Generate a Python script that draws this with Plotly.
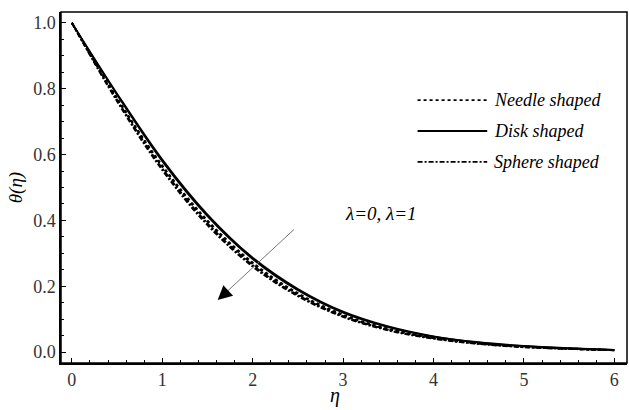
import plotly.graph_objects as go

# Similarity variable and temperature profiles theta(eta)
eta = [0.0, 0.5, 1.0, 1.5, 2.0, 2.5, 3.0, 3.5, 4.0, 4.5, 5.0, 5.5, 6.0]

disk_l0 = [1.0, 0.785, 0.585, 0.418, 0.287, 0.192, 0.123, 0.078, 0.048, 0.030, 0.019, 0.012, 0.007]
disk_l1 = [1.0, 0.782, 0.580, 0.413, 0.283, 0.188, 0.120, 0.076, 0.047, 0.029, 0.018, 0.011, 0.007]
needle_l0 = [1.0, 0.772, 0.567, 0.400, 0.272, 0.179, 0.114, 0.071, 0.044, 0.027, 0.017, 0.011, 0.006]
needle_l1 = [1.0, 0.769, 0.563, 0.396, 0.268, 0.176, 0.111, 0.069, 0.043, 0.026, 0.016, 0.010, 0.006]
sphere_l0 = [1.0, 0.766, 0.558, 0.391, 0.264, 0.173, 0.109, 0.068, 0.042, 0.026, 0.016, 0.010, 0.006]
sphere_l1 = [1.0, 0.762, 0.553, 0.386, 0.260, 0.170, 0.107, 0.066, 0.041, 0.025, 0.015, 0.010, 0.006]

legend_names = ["Needle shaped", "Disk shaped", "Sphere shaped"]
legend_dashes = ["dot", "solid", "5px,2px,2px,2px"]

FONT = "Liberation Serif, serif"

fig = go.Figure()

series = [
    (needle_l0, "dot"), (needle_l1, "dot"),
    (sphere_l0, "5px,2px,2px,2px"), (sphere_l1, "5px,2px,2px,2px"),
    (disk_l0, "solid"), (disk_l1, "solid"),
]
for ys, dash in series:
    fig.add_trace(go.Scatter(
        x=eta, y=ys, mode="lines",
        line=dict(color="black", width=2 if dash != "solid" else 1.8, dash=dash, shape="spline"),
        showlegend=False, hoverinfo="skip",
    ))

# Plot frame
fig.add_shape(type="rect", xref="paper", yref="paper", x0=0, x1=1, y0=0, y1=1,
              line=dict(color="black", width=1.5), layer="above")

# Hand-placed legend: sample line + italic label
legend_y = [0.749, 0.661, 0.573]
for name, dash, yy in zip(legend_names, legend_dashes, legend_y):
    fig.add_shape(type="line", xref="paper", yref="paper",
                  x0=0.63, x1=0.753, y0=yy, y1=yy,
                  line=dict(color="black", width=1.6 if dash != "solid" else 1.8, dash=dash))
    fig.add_annotation(xref="paper", yref="paper", x=0.762, y=yy,
                       text=f"<i>{name}</i>", showarrow=False,
                       xanchor="left", yanchor="middle",
                       font=dict(family=FONT, size=18, color="black"))

# Direction of increasing lambda
fig.add_annotation(x=1.613, y=0.158, ax=2.475, ay=0.377,
                   xref="x", yref="y", axref="x", ayref="y",
                   text="", showarrow=True, arrowhead=0,
                   arrowwidth=1, arrowcolor="#777777", standoff=6)
fig.add_annotation(x=1.613, y=0.158, ax=1.70, ay=0.180,
                   xref="x", yref="y", axref="x", ayref="y",
                   text="", showarrow=True, arrowhead=2, arrowsize=1.1,
                   arrowwidth=2.6, arrowcolor="black")
fig.add_annotation(x=3.42, y=0.422, xref="x", yref="y",
                   text="<i>λ=0, λ=1</i>", showarrow=False,
                   font=dict(family=FONT, size=19, color="black"))

# x-axis title placed below the tick labels
fig.add_annotation(x=0.484, y=-0.093, xref="paper", yref="paper",
                   text="<i>η</i>", showarrow=False, yanchor="middle",
                   font=dict(family=FONT, size=20, color="black"))

axis_common = dict(
    showline=True, linewidth=1.5, linecolor="black",
    ticks="inside", ticklen=5, tickwidth=1.2, tickcolor="black",
    showgrid=False, zeroline=False,
    tickfont=dict(family=FONT, size=18, color="#333333"),
)

xminor = dict(ticks="inside", ticklen=3, tickcolor="black", dtick=0.2, tick0=0, showgrid=False)
yminor = dict(ticks="inside", ticklen=3, tickcolor="black", dtick=0.05, tick0=0, showgrid=False)
xr = [-0.12, 6.14]
yr = [-0.033, 1.033]

fig.update_layout(
    xaxis=dict(range=xr, tick0=0, dtick=1, minor=xminor, **axis_common),
    yaxis=dict(range=yr, tick0=0, dtick=0.2, tickformat=".1f", minor=yminor,
               title=dict(text="<i>θ(η)</i>", font=dict(family=FONT, size=19, color="black"), standoff=6),
               **axis_common),
    # opposite frame edges carry the same ticks without labels
    xaxis2=dict(range=xr, tick0=0, dtick=1, minor=xminor, overlaying="x", side="top",
                showticklabels=False, **axis_common),
    yaxis2=dict(range=yr, tick0=0, dtick=0.2, minor=yminor, overlaying="y", side="right",
                showticklabels=False, **axis_common),
    width=629, height=410,
    margin=dict(l=61, r=2, t=12, b=47),
    paper_bgcolor="white", plot_bgcolor="white",
    showlegend=False,
)

fig.write_html("out.html")
